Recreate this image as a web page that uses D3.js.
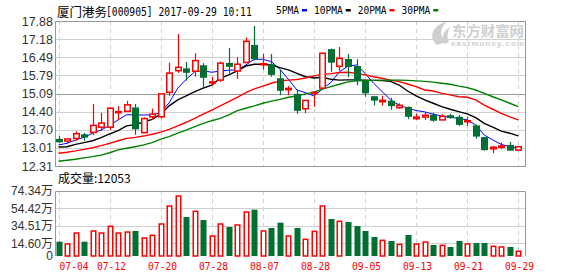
<!DOCTYPE html>
<html>
<head>
<meta charset="utf-8">
<script src="https://cdn.jsdelivr.net/npm/d3@7"></script>
<style>
  body { margin: 0; background: #fff; }
  svg { display: block; }
</style>
</head>
<body>
<svg id="chart" width="578" height="276"></svg>
<script>
// trading days shown (k-line x axis)
var dates = ["07-04","07-05","07-06","07-07","07-10","07-11","07-12","07-13","07-14","07-17",
  "07-18","07-19","07-20","07-21","07-24","07-25","07-26","07-27","07-28","07-31",
  "08-01","08-02","08-03","08-04","08-07","08-08","08-09","08-10","08-11","08-14",
  "08-28","08-29","08-30","08-31","09-01","09-04","09-05","09-06","09-07","09-08",
  "09-11","09-12","09-13","09-14","09-15","09-18","09-19","09-20","09-21","09-22",
  "09-25","09-26","09-27","09-28","09-29"];

// ohlc
var openP = [13.35,13.27,13.37,13.53,13.60,13.80,13.80,14.36,14.41,14.56,
  13.59,14.20,14.20,15.14,15.97,16.06,15.95,16.18,15.51,15.61,
  16.27,15.96,16.29,16.96,16.20,16.22,15.68,15.24,15.08,14.51,
  15.10,15.30,16.80,16.14,16.42,16.15,15.58,14.99,14.78,14.82,
  14.55,14.58,14.13,14.19,14.28,14.08,14.26,14.20,14.01,13.87,
  13.42,12.97,13.03,13.12,12.92];
var highP = [13.46,13.38,13.64,13.58,14.69,14.35,14.56,14.61,14.81,14.69,
  14.18,14.51,15.08,16.28,17.38,16.31,16.64,16.26,15.74,16.32,
  16.84,16.49,17.25,17.69,16.62,16.61,16.00,15.39,15.23,14.83,
  15.15,16.66,16.82,16.88,16.62,16.41,15.58,14.99,15.01,14.93,
  14.72,14.60,14.33,14.37,14.36,14.30,14.32,14.27,14.20,13.90,
  13.43,13.08,13.21,13.23,13.06];
var lowP = [13.20,13.18,13.28,13.28,13.50,13.65,13.70,14.08,14.38,13.51,
  13.57,14.08,14.13,15.01,15.89,15.59,15.74,15.28,15.41,15.54,
  15.87,15.66,16.26,16.36,16.02,15.74,15.03,15.03,14.32,14.34,
  14.59,15.28,15.93,15.97,15.72,15.41,14.97,14.64,14.63,14.47,
  14.51,14.11,14.08,14.08,14.01,14.08,14.13,13.85,13.85,13.36,
  12.90,12.80,12.95,12.90,12.90];
var closeP = [13.22,13.35,13.55,13.40,13.87,13.96,14.53,14.40,14.66,13.72,
  14.13,14.30,15.08,15.88,16.10,15.89,16.36,15.70,15.54,16.26,
  16.12,16.22,17.10,16.41,16.24,15.81,15.20,15.29,14.43,14.83,
  15.14,16.64,16.28,16.45,16.11,15.58,15.10,14.82,14.83,14.61,
  14.64,14.20,14.19,14.26,14.05,14.22,14.15,13.89,14.05,13.44,
  12.92,13.03,13.08,12.90,13.05];

// moving averages (they start before the window, so read them too)
var ma5 = [13.12,13.18,13.31,13.41,13.57,13.69,13.87,14.08,14.28,14.27,
  14.27,14.27,14.36,14.74,15.30,15.64,15.93,15.97,15.91,15.96,
  15.99,16.00,16.19,16.41,16.41,16.32,16.03,15.64,15.23,15.13,
  15.00,15.27,15.52,15.93,16.15,16.19,15.87,15.49,15.17,14.85,
  14.65,14.53,14.44,14.39,14.30,14.23,14.18,14.14,14.08,13.89,
  13.50,13.31,13.14,13.05,13.01];
var ma10 = [13.04,13.05,13.14,13.21,13.28,13.40,13.54,13.67,13.85,13.90,
  14.00,14.10,14.30,14.62,14.85,15.00,15.17,15.30,15.42,15.68,
  15.81,15.96,16.15,16.22,16.22,16.19,16.09,16.00,15.87,15.74,
  15.69,15.72,15.64,15.61,15.62,15.62,15.61,15.60,15.59,15.56,
  15.42,15.19,15.00,14.85,14.72,14.59,14.49,14.40,14.31,14.17,
  13.95,13.80,13.65,13.57,13.47];
var ma20 = [12.80,12.84,12.89,12.95,13.01,13.09,13.18,13.28,13.37,13.41,
  13.46,13.53,13.61,13.72,13.85,13.99,14.14,14.30,14.46,14.62,
  14.78,14.95,15.13,15.27,15.38,15.49,15.58,15.61,15.63,15.69,
  15.77,15.83,15.86,15.90,15.91,15.87,15.81,15.74,15.68,15.61,
  15.55,15.46,15.36,15.23,15.19,15.10,15.04,14.97,14.95,14.85,
  14.65,14.49,14.33,14.20,14.08];
var ma30 = [12.49,12.53,12.57,12.62,12.67,12.73,12.82,12.93,12.99,13.05,
  13.12,13.21,13.34,13.44,13.57,13.69,13.82,13.95,14.05,14.14,
  14.27,14.44,14.53,14.62,14.72,14.80,14.87,14.95,15.00,15.08,
  15.15,15.26,15.36,15.45,15.54,15.58,15.59,15.60,15.61,15.61,
  15.61,15.60,15.58,15.56,15.53,15.49,15.45,15.38,15.32,15.23,
  15.10,14.97,14.85,14.72,14.59];

// volume, in 万 (10k shares)
var volume = [16.4,13.7,26.3,16.4,28.6,26.3,34.0,26.3,27.4,28.6,
  20.6,23.7,36.6,57.2,68.6,44.6,51.1,41.2,22.9,36.6,
  33.2,35.5,50.3,53.0,28.6,32.0,38.1,22.9,32.0,19.1,
  28.2,57.2,42.3,39.7,38.9,34.3,28.6,21.7,17.9,17.2,
  13.3,24.0,13.7,16.0,12.6,12.2,10.3,17.2,13.7,14.9,
  14.9,11.1,10.3,10.3,5.4];

var priceTicks = [17.88,17.18,16.49,15.79,15.09,14.40,13.70,13.01,12.31];
var volTicks = [74.34,54.42,34.51,14.60,0];
var dateTicks = ["07-04","07-12","07-20","07-28","08-07","08-28","09-05","09-13","09-21","09-29"];

var maNames = ["5PMA","10PMA","20PMA","30PMA"];
var maColors = ["#0000ff","#000000","#ff0000","#008000"];
var maSeries = [ma5, ma10, ma20, ma30];

var svg = d3.select("#chart");

var left = 55, right = 525,
    pTop = 21, pBottom = 166,
    vTop = 191, vBottom = 256;

var up = "#ff0000", down = "#006f32";
var gridColor = "#d0d0d0", frameColor = "#999";
var numFont = "'Liberation Sans', Arial, sans-serif";
var monoFont = "'DejaVu Sans Mono', 'Liberation Mono', monospace";
var cjkFont = "'Noto Sans CJK SC', sans-serif";

//	scales
var x = d3.scalePoint().domain(dates).range([58.5, 518.3]);
var y = d3.scaleLinear().domain([12.31, 17.88]).range([pBottom, pTop]);
var vy = d3.scaleLinear().domain([0, 74.34]).range([vBottom, vTop]);

// snap to whole pixels so 1px lines stay crisp
function px(d) { return Math.round(x(d)); }
function snap(v) { return Math.round(v) + 0.5; }

//	horizontal grid, price panel
svg.append("g").selectAll("line")
  .data(priceTicks.slice(1, -1))
  .join("line")
  .attr("x1", left).attr("x2", right)
  .attr("y1", function(d) { return snap(y(d)); })
  .attr("y2", function(d) { return snap(y(d)); })
  .attr("stroke", function(d) { return d === 15.09 ? frameColor : gridColor; })
  .attr("stroke-width", 1);

//	horizontal grid, volume panel
svg.append("g").selectAll("line")
  .data(volTicks.slice(1, -1))
  .join("line")
  .attr("x1", left).attr("x2", right)
  .attr("y1", function(d) { return snap(vy(d)); })
  .attr("y2", function(d) { return snap(vy(d)); })
  .attr("stroke", gridColor);

//	vertical dashed grid at the labelled dates
var vgrid = svg.append("g");
dateTicks.forEach(function(d) {
  [[pTop, pBottom], [vTop, vBottom]].forEach(function(r) {
    vgrid.append("line")
      .attr("x1", px(d) + 0.5).attr("x2", px(d) + 0.5)
      .attr("y1", r[0]).attr("y2", r[1])
      .attr("stroke", gridColor)
      .attr("stroke-dasharray", "4,4");
  });
});

//	watermark (eastmoney)
var wm = svg.append("g").attr("fill", "#cfcfcf");
wm.append("path")
  .attr("d", "M437,45 C428,37 432,26 447,21 C440,28 439,36 446,42 Z M444,44 C441,38 443,31 450,27 C447,33 447,38 449,42 Z");
wm.append("text")
  .attr("x", 452).attr("y", 36)
  .attr("font-family", cjkFont).attr("font-weight", "bold").attr("font-size", 14)
  .attr("textLength", 72).attr("lengthAdjust", "spacingAndGlyphs")
  .text("东方财富网");
wm.append("text")
  .attr("x", 451).attr("y", 46)
  .attr("font-family", numFont).attr("font-weight", "bold").attr("font-size", 8)
  .attr("textLength", 73).attr("lengthAdjust", "spacing")
  .text("eastmoney.com");

//	frames
var frame = svg.append("g").attr("stroke", frameColor).attr("fill", "none");
frame.append("rect")
  .attr("x", left + 0.5).attr("y", pTop + 0.5)
  .attr("width", right - left).attr("height", pBottom - pTop);
frame.append("path")
  .attr("d", "M" + (left + 0.5) + "," + vBottom + "V" + (vTop + 0.5) + "H" + (right + 0.5) + "V" + vBottom);

//	moving average lines
maSeries.forEach(function(s, k) {
  var line = d3.line()
    .x(function(d, i) { return x(dates[i]); })
    .y(function(d) { return y(d); });
  svg.append("path")
    .datum(s)
    .attr("d", line)
    .attr("fill", "none")
    .attr("stroke", maColors[k])
    .attr("stroke-width", k === 0 ? 1 : 1.4);
});

//	candles
var candles = dates.map(function(d, i) {
  return { date: d, o: openP[i], h: highP[i], l: lowP[i], c: closeP[i], v: volume[i] };
});

var cg = svg.append("g").selectAll("g")
  .data(candles)
  .join("g");

cg.append("line")
  .attr("x1", function(d) { return px(d.date) + 0.5; })
  .attr("x2", function(d) { return px(d.date) + 0.5; })
  .attr("y1", function(d) { return y(d.h); })
  .attr("y2", function(d) { return y(d.l); })
  .attr("stroke", function(d) { return d.c >= d.o ? up : down; })
  .attr("stroke-width", 1.2);

cg.append("rect")
  .attr("x", function(d) { return d.c >= d.o ? px(d.date) - 2.25 : px(d.date) - 3; })
  .attr("width", function(d) { return d.c >= d.o ? 5.5 : 7; })
  .attr("y", function(d) { return y(Math.max(d.o, d.c)); })
  .attr("height", function(d) { return Math.max(1, Math.abs(y(d.o) - y(d.c))); })
  .attr("fill", function(d) { return d.c >= d.o ? "#fff" : down; })
  .attr("stroke", function(d) { return d.c >= d.o ? up : "none"; })
  .attr("stroke-width", 1.5);

//	volume bars
svg.append("g").selectAll("rect")
  .data(candles)
  .join("rect")
  .attr("x", function(d) { return d.c >= d.o ? px(d.date) - 1.75 : px(d.date) - 2.5; })
  .attr("width", function(d) { return d.c >= d.o ? 4.5 : 6; })
  .attr("y", function(d) { return vy(d.v); })
  .attr("height", function(d) { return vBottom - vy(d.v); })
  .attr("fill", function(d) { return d.c >= d.o ? "#fff" : down; })
  .attr("stroke", function(d) { return d.c >= d.o ? up : "none"; })
  .attr("stroke-width", 1.5);

//	price axis labels
svg.append("g").selectAll("text")
  .data(priceTicks)
  .join("text")
  .attr("x", 53)
  .attr("y", function(d) { return y(d); })
  .attr("dy", "0.36em")
  .attr("text-anchor", "end")
  .attr("font-family", numFont).attr("font-size", 12.5)
  .attr("fill", "#333")
  .text(function(d) { return d.toFixed(2); });

//	volume axis labels
svg.append("g").selectAll("text")
  .data(volTicks)
  .join("text")
  .attr("x", 53)
  .attr("y", function(d) { return vy(d); })
  .attr("dy", "0.36em")
  .attr("text-anchor", "end")
  .attr("font-family", numFont + ", " + cjkFont).attr("font-size", 12)
  .attr("fill", "#333")
  .text(function(d) { return d === 0 ? "0" : d.toFixed(2) + "万"; });

//	date labels
svg.append("g").selectAll("text")
  .data(dateTicks)
  .join("text")
  .attr("x", function(d, i) { return i === 0 ? 59.5 : px(d) - 13; })
  .attr("y", 270)
  .attr("font-family", monoFont).attr("font-size", 11)
  .attr("textLength", 29).attr("lengthAdjust", "spacingAndGlyphs")
  .attr("fill", "#f00")
  .text(function(d) { return d; });

//	title and legend
svg.append("text")
  .attr("x", 57).attr("y", 17)
  .attr("font-family", cjkFont).attr("font-size", 12.5)
  .attr("fill", "#000")
  .text("厦门港务");
// narrow the mono text with a transform so its box is narrow too
svg.append("text")
  .attr("transform", "translate(106,16) scale(0.776,1)")
  .attr("font-family", monoFont).attr("font-size", 12.5)
  .attr("fill", "#000")
  .text("[000905] 2017-09-29 10:11");

var lx = 276;
maNames.forEach(function(n, k) {
  var w = n.length * 5.75;
  svg.append("text")
    .attr("transform", "translate(" + lx + ",14) scale(" + (w / (n.length * 6.62)) + ",1)")
    .attr("font-family", monoFont).attr("font-size", 11)
    .attr("fill", "#000")
    .text(n);
  svg.append("rect")
    .attr("x", lx + w + 3).attr("y", 9)
    .attr("width", 5).attr("height", 2.5)
    .attr("fill", maColors[k]);
  lx += w + 15;
});

//	volume caption
svg.append("text")
  .attr("x", 58).attr("y", 183)
  .attr("font-family", cjkFont).attr("font-size", 12)
  .attr("fill", "#000")
  .text("成交量:12053");
</script>
</body>
</html>
